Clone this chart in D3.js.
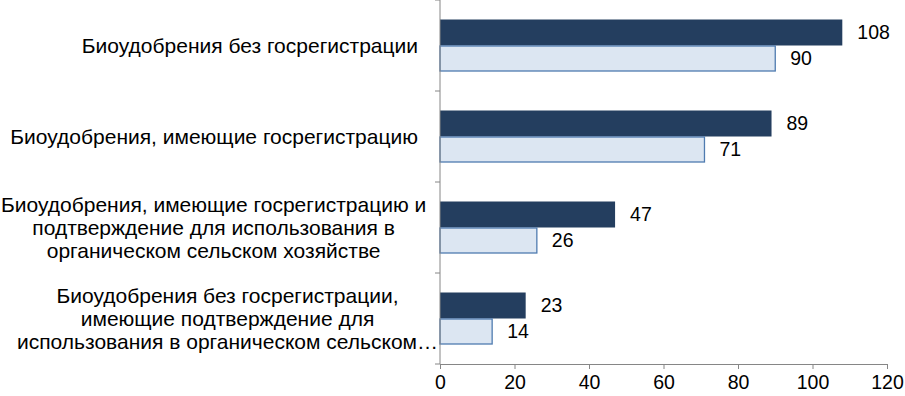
<!DOCTYPE html>
<html>
<head>
<meta charset="utf-8">
<script src="https://cdn.jsdelivr.net/npm/d3@7"></script>
<style>
  body { margin: 0; background: #fff; }
  svg text { font-family: "Liberation Sans", Arial, sans-serif; fill: #000; }
</style>
</head>
<body>
<div id="chart"></div>
<script>
// Categories (top to bottom), each split into display lines
const categories = [
  ["Биоудобрения без госрегистрации"],
  ["Биоудобрения, имеющие госрегистрацию"],
  ["Биоудобрения, имеющие госрегистрацию и", "подтверждение для использования в", "органическом сельском хозяйстве"],
  ["Биоудобрения без госрегистрации,", "имеющие подтверждение для", "использования в органическом сельском…"]
];
const seriesDark = [108, 89, 47, 23];
const seriesLight = [90, 71, 26, 14];
const xTicks = [0, 20, 40, 60, 80, 100, 120];

const W = 905, H = 396;
const plot = { left: 440, right: 887, top: 0, bottom: 364 };

const svg = d3.select("#chart").append("svg")
  .attr("width", W).attr("height", H);

const x = d3.scaleLinear().domain([0, 120]).range([plot.left, plot.right]);
const y = d3.scaleBand().domain(d3.range(categories.length)).range([plot.top, plot.bottom]);
const barH = 26;

// Bars
categories.forEach((c, i) => {
  const cy = y(i) + y.bandwidth() / 2;
  svg.append("rect")
    .attr("x", x(0)).attr("y", cy - barH)
    .attr("width", x(seriesDark[i]) - x(0)).attr("height", barH)
    .attr("fill", "#243e5f");
  svg.append("rect")
    .attr("x", x(0)).attr("y", cy + 0.5)
    .attr("width", x(seriesLight[i]) - x(0)).attr("height", barH - 1)
    .attr("fill", "#dce6f2").attr("stroke", "#4f7bb0").attr("stroke-width", 1.3);

  svg.append("text")
    .attr("x", x(seriesDark[i]) + 15).attr("y", cy - barH / 2)
    .attr("dy", "0.35em").style("font-size", "19.5px")
    .text(seriesDark[i]);
  svg.append("text")
    .attr("x", x(seriesLight[i]) + 15).attr("y", cy + barH / 2)
    .attr("dy", "0.35em").style("font-size", "19.5px")
    .text(seriesLight[i]);
});

// X axis
const xAxis = svg.append("g")
  .attr("transform", `translate(0,${plot.bottom})`)
  .call(d3.axisBottom(x).tickValues(xTicks).tickSize(5).tickSizeOuter(0));
xAxis.select(".domain").attr("stroke", "#868686");
xAxis.selectAll(".tick line").attr("stroke", "#868686");
xAxis.selectAll(".tick text").attr("y", 11).style("font-size", "19.5px")
  .style("font-family", "Liberation Sans, Arial, sans-serif");

// Y axis (category boundaries)
const yAx = svg.append("g");
yAx.append("line")
  .attr("x1", plot.left).attr("x2", plot.left)
  .attr("y1", plot.top).attr("y2", plot.bottom)
  .attr("stroke", "#868686");
d3.range(categories.length + 1).forEach(i => {
  const yy = i < categories.length ? y(i) : plot.bottom;
  yAx.append("line")
    .attr("x1", plot.left - 5).attr("x2", plot.left)
    .attr("y1", yy).attr("y2", yy)
    .attr("stroke", "#868686");
});

// Category labels: block right-aligned, lines centered within block
const lineH = 23;
categories.forEach((lines, i) => {
  const cy = y(i) + y.bandwidth() / 2;
  const g = svg.append("g");
  const texts = lines.map((l, j) => g.append("text")
    .attr("y", cy + (j - (lines.length - 1) / 2) * lineH)
    .attr("dy", "0.35em")
    .attr("text-anchor", "middle")
    .style("font-size", "21px")
    .text(l));
  const maxW = d3.max(texts, t => t.node().getComputedTextLength());
  let right = i === 3 ? plot.left - 2 : plot.left - 22;
  right = Math.max(right, maxW + 1);
  texts.forEach(t => t.attr("x", right - maxW / 2));
});
</script>
</body>
</html>
